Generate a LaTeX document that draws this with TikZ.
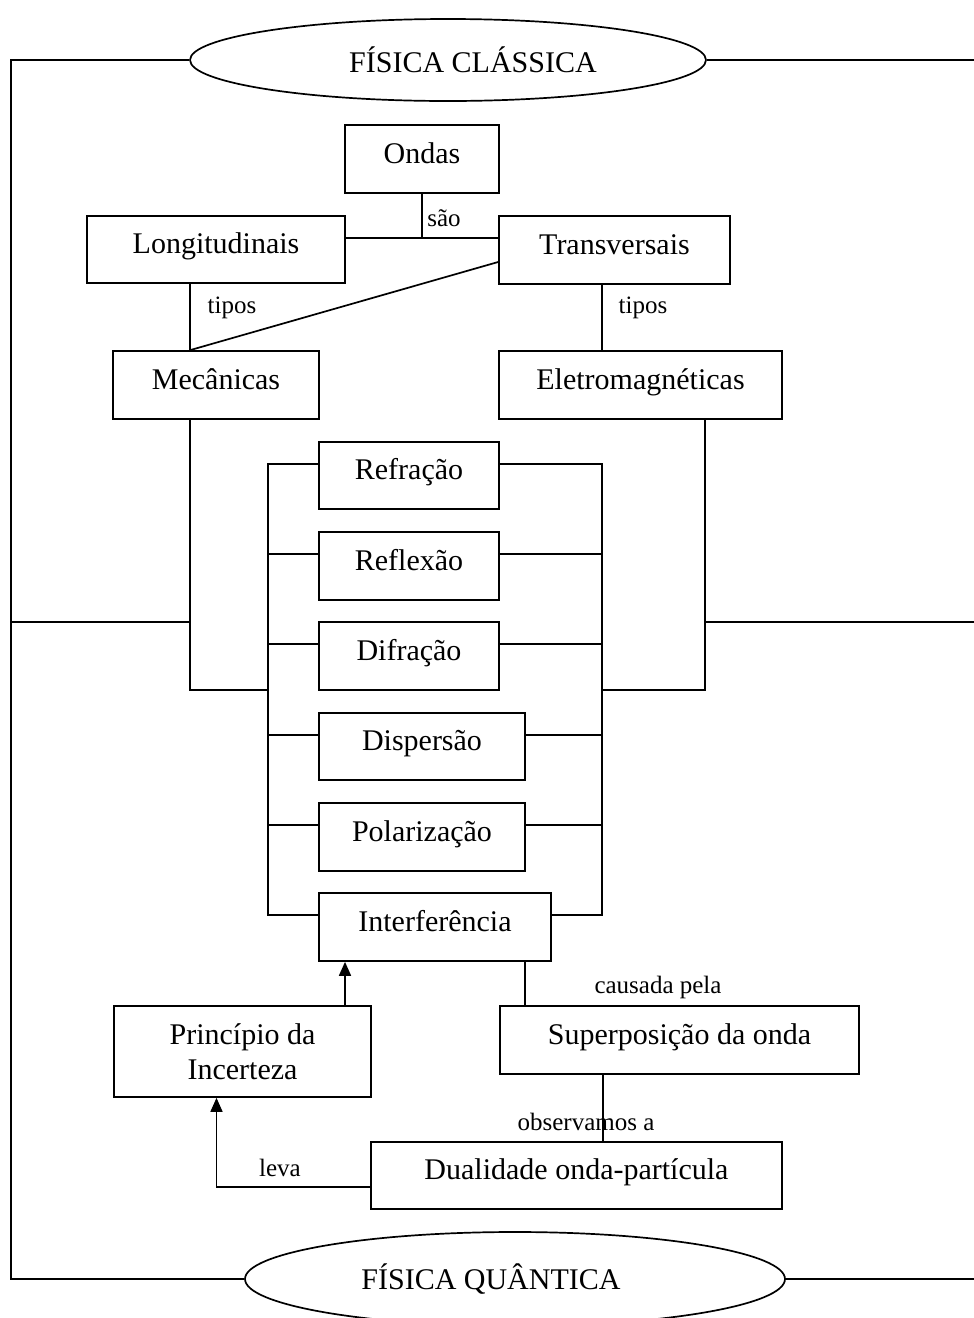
\documentclass[tikz,border=0pt]{standalone}
\usepackage{fontspec}
\setmainfont{Liberation Serif}
\usetikzlibrary{shapes.geometric,arrows.meta,calc}
\begin{document}
\begin{tikzpicture}[x=1pt,y=-1pt,line width=1.7pt,
  box/.style={draw,rectangle,inner sep=0pt,font=\fontsize{30}{35}\selectfont,text height=20pt,text depth=12pt},
  tallbox/.style={draw,rectangle,inner sep=0pt,font=\fontsize{30}{35}\selectfont,align=center},
  oval/.style={draw,ellipse,inner sep=0pt,font=\fontsize{30}{36}\selectfont},
  lbl/.style={font=\fontsize{25}{30}\selectfont,inner sep=0pt},
  arr/.style={-{Triangle[length=14pt,width=12pt]}}]
\useasboundingbox (0,0) rectangle (974,1318);

% ovals
\node[oval,minimum width=516pt,minimum height=82pt] (fc) at (448,60) {\hspace*{50pt}FÍSICA CLÁSSICA};
\node[oval,minimum width=540pt,minimum height=94pt] (fq) at (515,1279) {FÍSICA QUÂNTICA\hspace*{48pt}};

% boxes
\node[box,minimum width=154pt,minimum height=68pt] (ondas) at (422,159) {Ondas};
\node[box,minimum width=258pt,minimum height=67pt] (longi) at (216,249.5) {Longitudinais};
\node[box,minimum width=231pt,minimum height=68pt] (trans) at (614.5,250) {Transversais};
\node[box,minimum width=206pt,minimum height=68pt] (mec) at (216,385) {Mecânicas};
\node[box,minimum width=283pt,minimum height=68pt] (eletro) at (640.5,385) {Eletromagnéticas};
\node[box,minimum width=180pt,minimum height=67pt] (refr) at (409,475.5) {Refração};
\node[box,minimum width=180pt,minimum height=68pt] (refl) at (409,566) {Reflexão};
\node[box,minimum width=180pt,minimum height=68pt] (difr) at (409,656) {Difração};
\node[box,minimum width=206pt,minimum height=67pt] (disp) at (422,746.5) {Dispersão};
\node[box,minimum width=206pt,minimum height=68pt] (pola) at (422,837) {Polarização};
\node[box,minimum width=232pt,minimum height=68pt] (inter) at (435,927) {Interferência};
\node[tallbox,minimum width=257pt,minimum height=91pt] (princ) at (242.5,1051.5) {Princípio da\\Incerteza};
\node[box,minimum width=359pt,minimum height=68pt] (super) at (679.5,1040) {Superposição da onda};
\node[box,minimum width=411pt,minimum height=67pt] (dual) at (576.5,1175.5) {Dualidade onda-partícula};

% helper coordinates
\coordinate (lx) at (11,0);
\coordinate (rx) at (974,0);
\coordinate (mx) at (190,0);
\coordinate (ex) at (705,0);
\coordinate (lb) at (268,0);
\coordinate (rb) at (602,0);
\coordinate (midy) at (0,622);
\coordinate (joy) at (0,690);
\coordinate (sj) at (422,238);
\coordinate (ax) at (345,0);
\coordinate (cx) at (525,0);
\coordinate (ox) at (603,0);
\coordinate (vx) at (216.5,0);
\foreach \b in {refr,refl,difr,disp,pola,inter}{
  \coordinate (\b-l) at ($(\b.north west)+(0,22.5)$);
  \coordinate (\b-r) at ($(\b.north east)+(0,22.5)$);
}

% outer frame
\draw (fc.west) -- (fc.west -| lx) -- (fq.west -| lx) -- (fq.west);
\draw (fc.east) -- (fc.east -| rx);
\draw (fq.east) -- (fq.east -| rx);
\draw (midy -| lx) -- (midy -| mx);
\draw (midy -| ex) -- (midy -| rx);

% top tree
\draw (ondas.south) -- (sj);
\draw (longi.east |- sj) -- (trans.west |- sj);
\draw (longi.south -| mx) -- (mec.north -| mx);
\draw ([yshift=-12pt]trans.west) -- (mec.north -| mx);
\draw (trans.south -| rb) -- (eletro.north -| rb);
\draw (mec.south -| mx) -- (joy -| mx) -- (joy -| lb);
\draw (eletro.south -| ex) -- (joy -| ex) -- (joy -| rb);

% buses
\draw (refr-l) -- (refr-l -| lb) -- (inter-l -| lb) -- (inter-l);
\draw (refr-r) -- (refr-r -| rb) -- (inter-r -| rb) -- (inter-r);
\foreach \b in {refl,difr,disp,pola}{
  \draw (\b-l) -- (\b-l -| lb);
  \draw (\b-r) -- (\b-r -| rb);
}

% bottom
\draw[arr] (princ.north -| ax) -- (inter.south -| ax);
\draw (inter.south -| cx) -- (super.north -| cx);
\draw (super.south -| ox) -- (dual.north -| ox);
\draw[arr] ([yshift=-11.5pt]dual.west) -| (princ.south -| vx);

% labels
\node[lbl] (sao) at (444,218) {são};
\node[lbl] (tipos1) at (232,308) {tipos};
\node[lbl] (tipos2) at (643,308) {tipos};
\node[lbl] (caus) at (658,987) {causada pela};
\node[lbl] (obs) at (586,1122) {observamos a};
\node[lbl] (leva) at (280,1168) {leva};
\end{tikzpicture}
\end{document}
